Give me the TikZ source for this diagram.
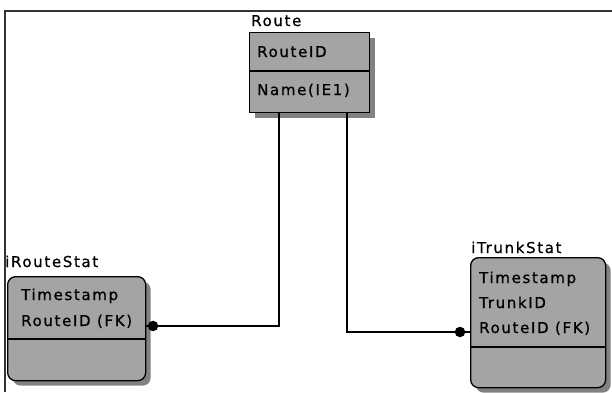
\documentclass[tikz,border=0pt]{standalone}
\usepackage{fontspec}
\setmainfont{DejaVu Sans}[LetterSpace=11,FakeBold=0.8]
\usetikzlibrary{shadows}
\definecolor{boxgray}{RGB}{164,164,164}
\definecolor{shadgray}{RGB}{130,130,130}
\tikzset{
  tbl/.style={draw=black, line width=1.3pt, fill=boxgray, inner sep=0pt,
    anchor=north west,
    drop shadow={shadow xshift=5pt, shadow yshift=-5pt, fill=shadgray, opacity=1}},
  txt/.style={anchor=base west, inner sep=0pt, font=\fontsize{15}{18}\selectfont, text=black},
  conn/.style={draw=black, line width=1.3pt},
  fkdot/.style={circle, fill=black, inner sep=0pt, minimum size=10.5pt}
}
\begin{document}
\begin{tikzpicture}[x=1pt,y=1pt]
\useasboundingbox (0,0) rectangle (612,-392);
% frame
\draw[line width=2pt, draw=black!80] (5,-392) |- (612,-11);
% boxes
\node[tbl, minimum width=120pt, minimum height=80pt] (route) at (249,-32) {};
\draw[conn] (route.west |- 0,-71) -- (route.east |- 0,-71);
\node[tbl, rounded corners=8pt, minimum width=138pt, minimum height=104pt] (rs) at (7,-276) {};
\draw[conn] (rs.west |- 0,-339) -- (rs.east |- 0,-339);
\node[tbl, rounded corners=8pt, minimum width=135pt, minimum height=130pt] (ts) at (470,-257) {};
\draw[conn] (ts.west |- 0,-347) -- (ts.east |- 0,-347);
% labels
\node[txt] (lroute) at (251,-26) {Route};
\node[txt] (a1) at (257,-57) {RouteID};
\node[txt] (a2) at (257,-95) {Name(IE1)};
\node[txt] (lrs) at (5,-267) {iRouteStat};
\node[txt] (b1) at (21,-300) {Timestamp};
\node[txt] (b2) at (21,-326) {RouteID (FK)};
\node[txt] (lts) at (471,-253) {iTrunkStat};
\node[txt] (c1) at (479,-283) {Timestamp};
\node[txt] (c2) at (479,-308) {TrunkID};
\node[txt] (c3) at (479,-333) {RouteID (FK)};
% connectors
\coordinate (ldot) at (153,-326);
\coordinate (rdot) at (460,-332);
\draw[conn] ([xshift=30pt]route.south west) |- (ldot) -- (ldot -| rs.east);
\draw[conn] ([xshift=98pt]route.south west) |- (rdot) -- (rdot -| ts.west);
\node[fkdot] (d1) at (ldot) {};
\node[fkdot] (d2) at (rdot) {};
\end{tikzpicture}
\end{document}
